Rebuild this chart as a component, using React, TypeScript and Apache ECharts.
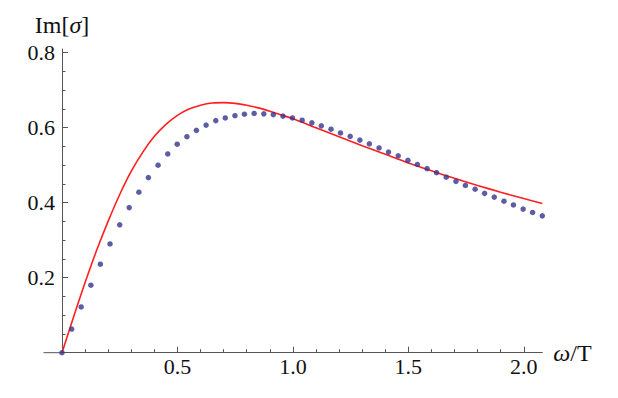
import React, { useEffect, useRef } from "react";
import * as echarts from "echarts";

// Blue dotted series (points)
const dotX = [0, 0.042, 0.083, 0.125, 0.166, 0.208, 0.25, 0.291, 0.333, 0.374, 0.416, 0.458, 0.499, 0.541, 0.582, 0.624, 0.666, 0.707, 0.749, 0.79, 0.832, 0.874, 0.915, 0.957, 0.998, 1.04, 1.082, 1.123, 1.165, 1.206, 1.248, 1.29, 1.331, 1.373, 1.414, 1.456, 1.498, 1.539, 1.581, 1.622, 1.664, 1.706, 1.747, 1.789, 1.83, 1.872, 1.914, 1.955, 1.997, 2.038, 2.08];
const dotY = [0, 0.063, 0.122, 0.18, 0.236, 0.29, 0.341, 0.387, 0.428, 0.467, 0.5, 0.53, 0.556, 0.576, 0.593, 0.607, 0.619, 0.626, 0.632, 0.636, 0.638, 0.637, 0.635, 0.631, 0.626, 0.62, 0.613, 0.605, 0.596, 0.586, 0.577, 0.567, 0.557, 0.546, 0.535, 0.525, 0.513, 0.502, 0.491, 0.48, 0.468, 0.457, 0.446, 0.436, 0.425, 0.415, 0.404, 0.394, 0.383, 0.374, 0.365];

// Red solid curve
const lineX = [0, 0.05, 0.1, 0.15, 0.2, 0.25, 0.3, 0.35, 0.4, 0.45, 0.5, 0.55, 0.6, 0.65, 0.7, 0.75, 0.8, 0.85, 0.9, 0.95, 1.0, 1.1, 1.2, 1.3, 1.4, 1.5, 1.6, 1.7, 1.8, 1.9, 2.0, 2.08];
const lineY = [0, 0.095, 0.187, 0.273, 0.351, 0.422, 0.484, 0.535, 0.577, 0.609, 0.633, 0.65, 0.66, 0.666, 0.667, 0.665, 0.66, 0.653, 0.644, 0.634, 0.624, 0.6, 0.576, 0.552, 0.529, 0.506, 0.485, 0.465, 0.446, 0.428, 0.411, 0.398];

// Axis ticks and labels
const xMajor = [0.5, 1.0, 1.5, 2.0];
const xMinor = [0.1, 0.2, 0.3, 0.4, 0.6, 0.7, 0.8, 0.9, 1.1, 1.2, 1.3, 1.4, 1.6, 1.7, 1.8, 1.9];
const yMajor = [0.2, 0.4, 0.6, 0.8];
const yMinor = [0.05, 0.1, 0.15, 0.25, 0.3, 0.35, 0.45, 0.5, 0.55, 0.65, 0.7, 0.75];

const FONT = "Liberation Serif";
const AXIS_COLOR = "#555";
const TEXT_COLOR = "#111";

const GRID_LEFT = 62;
const GRID_BOTTOM = 45.3;
const W = 618;
const H = 398;

const isMajor = (list: number[], v: number) => list.some((m) => Math.abs(m - v) < 1e-6);

export default function App() {
  const ref = useRef<HTMLDivElement>(null);
  useEffect(() => {
    if (!ref.current) return;
    const chart = echarts.init(ref.current, undefined, { renderer: "svg" });
    const xBase = {
      type: "value" as const,
      min: 0,
      max: 2.08,
      interval: 0.5,
      splitLine: { show: false },
      position: "bottom" as const,
    };
    const yBase = {
      type: "value" as const,
      min: 0,
      max: 0.81,
      interval: 0.2,
      splitLine: { show: false },
      position: "left" as const,
    };
    chart.setOption({
      animation: false,
      grid: { left: GRID_LEFT, right: 75.7, top: 49, bottom: GRID_BOTTOM, containLabel: false },
      graphic: [
        {
          type: "line",
          shape: { x1: 43.5, y1: H - GRID_BOTTOM, x2: GRID_LEFT, y2: H - GRID_BOTTOM },
          style: { stroke: AXIS_COLOR, lineWidth: 1 },
          silent: true,
        },
      ],
      xAxis: [
        {
          ...xBase,
          name: "{b|ω}{a|/T}",
          nameLocation: "end",
          nameGap: 11,
          nameTextStyle: {
            rich: {
              a: { fontFamily: FONT, fontSize: 24, color: TEXT_COLOR },
              b: { fontFamily: FONT, fontSize: 24, fontStyle: "italic", color: TEXT_COLOR },
            },
          },
          axisLine: { show: true, onZero: false, lineStyle: { color: AXIS_COLOR, width: 1 } },
          axisTick: { show: true, inside: true, length: 6, customValues: xMajor, lineStyle: { color: AXIS_COLOR } },
          axisLabel: {
            show: true,
            showMinLabel: false,
            showMaxLabel: false,
            margin: 3,
            fontFamily: FONT,
            fontSize: 22,
            color: TEXT_COLOR,
            formatter: (v: number) => (isMajor(xMajor, v) ? v.toFixed(1) : ""),
          },
        },
        {
          ...xBase,
          axisLine: { show: false, onZero: false },
          axisTick: { show: true, inside: true, length: 3.5, customValues: xMinor, lineStyle: { color: AXIS_COLOR } },
          axisLabel: { show: false },
        },
      ],
      yAxis: [
        {
          ...yBase,
          name: "{a|Im[}{b|σ}{a|]}",
          nameLocation: "end",
          nameGap: 12,
          nameTextStyle: {
            rich: {
              a: { fontFamily: FONT, fontSize: 24, color: TEXT_COLOR },
              b: { fontFamily: FONT, fontSize: 24, fontStyle: "italic", color: TEXT_COLOR },
            },
          },
          axisLine: { show: true, onZero: false, lineStyle: { color: AXIS_COLOR, width: 1 } },
          axisTick: { show: true, inside: true, length: 6, customValues: yMajor, lineStyle: { color: AXIS_COLOR } },
          axisLabel: {
            show: true,
            showMinLabel: false,
            margin: 7,
            align: "right",
            fontFamily: FONT,
            fontSize: 22,
            color: TEXT_COLOR,
            formatter: (v: number) => (isMajor(yMajor, v) ? v.toFixed(1) : ""),
          },
        },
        {
          ...yBase,
          axisLine: { show: false, onZero: false },
          axisTick: { show: true, inside: true, length: 3.5, customValues: yMinor, lineStyle: { color: AXIS_COLOR } },
          axisLabel: { show: false },
        },
      ],
      series: [
        {
          type: "line",
          xAxisIndex: 0,
          yAxisIndex: 0,
          data: lineX.map((x, i) => [x, lineY[i]]),
          smooth: 0.3,
          showSymbol: false,
          symbol: "none",
          clip: false,
          lineStyle: { color: "#ff1f1f", width: 1.6 },
          z: 3,
        },
        {
          type: "scatter",
          xAxisIndex: 0,
          yAxisIndex: 0,
          data: dotX.map((x, i) => [x, dotY[i]]),
          symbol: "circle",
          symbolSize: 5.5,
          clip: false,
          itemStyle: { color: "#35358f" },
          z: 4,
        },
      ],
    });
    return () => chart.dispose();
  }, []);
  return (
    <div
      ref={ref}
      style={{ position: "fixed", left: 0, top: 0, width: W, height: H, background: "#fff" }}
    />
  );
}
